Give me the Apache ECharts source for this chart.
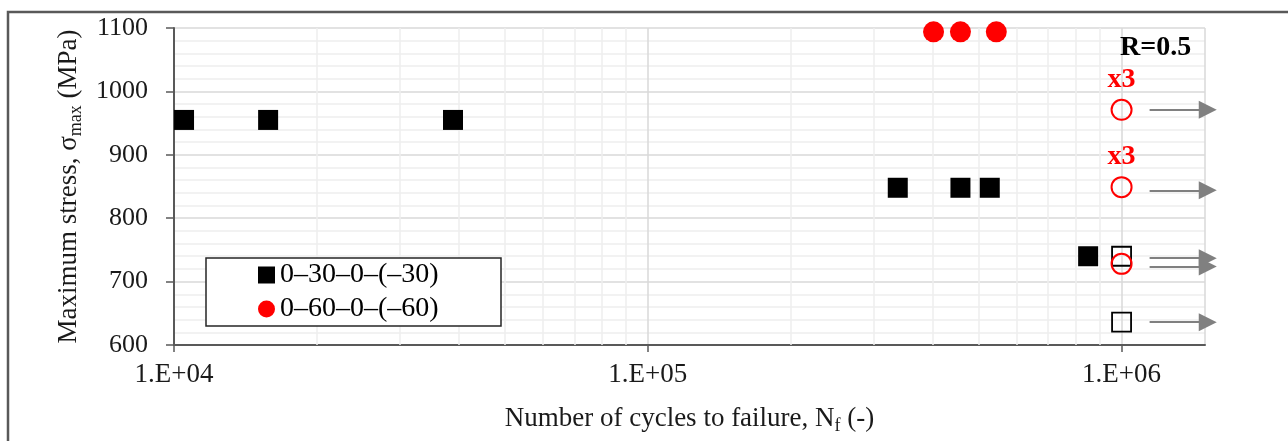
<!DOCTYPE html>
<html>
<head>
<meta charset="utf-8">
<title>S-N data, R=0.5</title>
<script src="https://cdn.jsdelivr.net/npm/echarts@6/dist/echarts.min.js"></script>
<style>
  html, body { margin: 0; padding: 0; background: #ffffff; }
  #chart { width: 1288px; height: 441px; }
</style>
</head>
<body>
<div id="chart"></div>
<script>
// Fatigue results: cycles to failure vs maximum stress
const seriesNames = ['0–30–0–(–30)', '0–60–0–(–60)'];

// 0–30–0–(–30): broken specimens
const cycles030 = [1.05e4, 1.58e4, 3.88e4, 3.37e5, 4.57e5, 5.27e5, 8.5e5];
const stress030 = [955, 955, 955, 848, 848, 848, 740];

// 0–60–0–(–60): broken specimens
const cycles060 = [4.01e5, 4.57e5, 5.44e5];
const stress060 = [1094, 1094, 1094];

// Run-outs (test stopped at 1e6 cycles)
const runoutCycles = 1e6;
const runout030Stress = [740, 636];
const runout060Stress = [971, 849, 728];
const runout060Count = ['x3', 'x3', ''];

// Run-out arrows (start / end cycles and stress level)
const arrowCycles = [1.146e6, 1.52e6];
const arrowStress = [971, 844, 737, 724, 636];

// Axis ticks
const xTicks = [1e4, 1e5, 1e6];
const xMinorTicks = [2e4, 3e4, 4e4, 5e4, 6e4, 7e4, 8e4, 9e4, 2e5, 3e5, 4e5, 5e5, 6e5, 7e5, 8e5, 9e5];
const yTicks = [600, 700, 800, 900, 1000, 1100];

const FONT = '"Liberation Serif", "Times New Roman", serif';

const chart = echarts.init(document.getElementById('chart'), null, { renderer: 'canvas' });

function sci(v) {
  const e = Math.round(Math.log10(v));
  if (Math.abs(v - Math.pow(10, e)) > 1e-6 * v) return '';
  return '1.E+' + (e < 10 ? '0' + e : e);
}

const option = {
  backgroundColor: '#ffffff',
  animation: false,
  grid: { left: 174, top: 28, right: 83, bottom: 96, containLabel: false },
  legend: {
    left: 258, top: 261, orient: 'vertical', z: 200,
    itemWidth: 17, itemHeight: 17, itemGap: 6, padding: 0,
    textStyle: { fontFamily: FONT, fontSize: 28, color: '#000', lineHeight: 28 },
    data: [
      { name: seriesNames[0], icon: 'rect' },
      { name: seriesNames[1], icon: 'circle' }
    ]
  },
  xAxis: {
    type: 'log', logBase: 10, min: xTicks[0], max: 1.5e6,
    name: 'Number of cycles to failure, N{sub|f} (-)',
    nameLocation: 'middle', nameGap: 58,
    nameTextStyle: {
      fontFamily: FONT, fontSize: 27, color: '#1a1a1a',
      rich: { sub: { fontFamily: FONT, fontSize: 18, color: '#1a1a1a', verticalAlign: 'bottom', padding: [14, 0, 0, 0] } }
    },
    axisLine: { show: true, onZero: false, lineStyle: { color: '#595959', width: 2 } },
    axisTick: { show: true, length: 7, lineStyle: { color: '#595959', width: 1.5 } },
    axisLabel: {
      fontFamily: FONT, fontSize: 27, color: '#1a1a1a', margin: 16,
      showMaxLabel: false,
      formatter: sci
    },
    splitLine: { show: true, lineStyle: { color: '#d9d9d9', width: 1.5 } }
  },
  yAxis: {
    type: 'value', min: yTicks[0], max: yTicks[yTicks.length - 1], interval: 100,
    name: 'Maximum stress, σ{sub|max} (MPa)',
    nameLocation: 'middle', nameGap: 72, nameRotate: 90,
    nameTextStyle: {
      fontFamily: FONT, fontSize: 27, color: '#1a1a1a',
      rich: { sub: { fontFamily: FONT, fontSize: 18, color: '#1a1a1a', verticalAlign: 'bottom', padding: [14, 0, 0, 0] } }
    },
    axisLine: { show: true, lineStyle: { color: '#595959', width: 2 } },
    axisTick: { show: true, length: 8, lineStyle: { color: '#595959', width: 1.5 } },
    axisLabel: {
      fontFamily: FONT, fontSize: 26, color: '#1a1a1a', margin: 26,
      formatter: v => String(v)
    },
    splitLine: { show: true, lineStyle: { color: '#d9d9d9', width: 1.5 } },
    minorTick: { show: false, splitNumber: 5 },
    minorSplitLine: { show: true, lineStyle: { color: '#eeeeee', width: 1.5 } }
  },
  graphic: [
    {
      type: 'rect', z: -1, silent: true,
      shape: { x: 8, y: 12, width: 1400, height: 600 },
      style: { fill: 'none', stroke: '#595959', lineWidth: 2.5 }
    },
    {
      type: 'rect', z: 50, silent: true,
      shape: { x: 206, y: 258, width: 295, height: 68 },
      style: { fill: '#ffffff', stroke: '#262626', lineWidth: 1.5 }
    },
    {
      type: 'text', z: 100, left: 1120, top: 34, silent: true,
      style: { text: 'R=0.5', fontFamily: FONT, fontSize: 28, fontWeight: 'bold', fill: '#000' }
    }
  ],
  series: [
    {
      // vertical minor grid lines at 2..9 × each decade
      name: 'minor-grid', type: 'line', data: [], silent: true, z: 0,
      markLine: {
        silent: true, symbol: ['none', 'none'], label: { show: false },
        lineStyle: { color: '#eeeeee', width: 1.5, type: 'solid' },
        emphasis: { disabled: true },
        data: xMinorTicks.map(v => ({ xAxis: v }))
      }
    },
    {
      name: 'arrows', type: 'lines', coordinateSystem: 'cartesian2d', z: 3,
      silent: true, clip: false,
      symbol: ['none', 'triangle'], symbolSize: [0, 18],
      lineStyle: { color: '#808080', width: 2, opacity: 1 },
      itemStyle: { color: '#808080' },
      data: arrowStress.map(s => ({ coords: [[arrowCycles[0], s], [arrowCycles[1], s]] }))
    },
    {
      name: seriesNames[0], type: 'scatter', symbol: 'rect', symbolSize: 20, z: 5,
      itemStyle: { color: '#000000', opacity: 1 },
      data: cycles030.map((c, i) => [c, stress030[i]])
    },
    {
      name: seriesNames[1], type: 'scatter', symbol: 'circle', symbolSize: 21, z: 5,
      itemStyle: { color: '#ff0000', opacity: 1 },
      data: cycles060.map((c, i) => [c, stress060[i]])
    },
    {
      name: 'runout-030', type: 'scatter', symbol: 'rect', symbolSize: 19, z: 6,
      itemStyle: { color: 'rgba(0,0,0,0)', borderColor: '#000000', borderWidth: 1.8, opacity: 1 },
      data: runout030Stress.map(s => [runoutCycles, s])
    },
    {
      name: 'runout-060', type: 'scatter', symbol: 'circle', symbolSize: 20, z: 7,
      itemStyle: { color: 'rgba(0,0,0,0)', borderColor: '#ff0000', borderWidth: 2, opacity: 1 },
      label: {
        show: true, position: 'top', distance: 5,
        fontFamily: FONT, fontSize: 28, fontWeight: 'bold', color: '#ff0000',
        formatter: p => runout060Count[p.dataIndex]
      },
      data: runout060Stress.map(s => [runoutCycles, s])
    }
  ]
};

chart.setOption(option);
</script>
</body>
</html>
